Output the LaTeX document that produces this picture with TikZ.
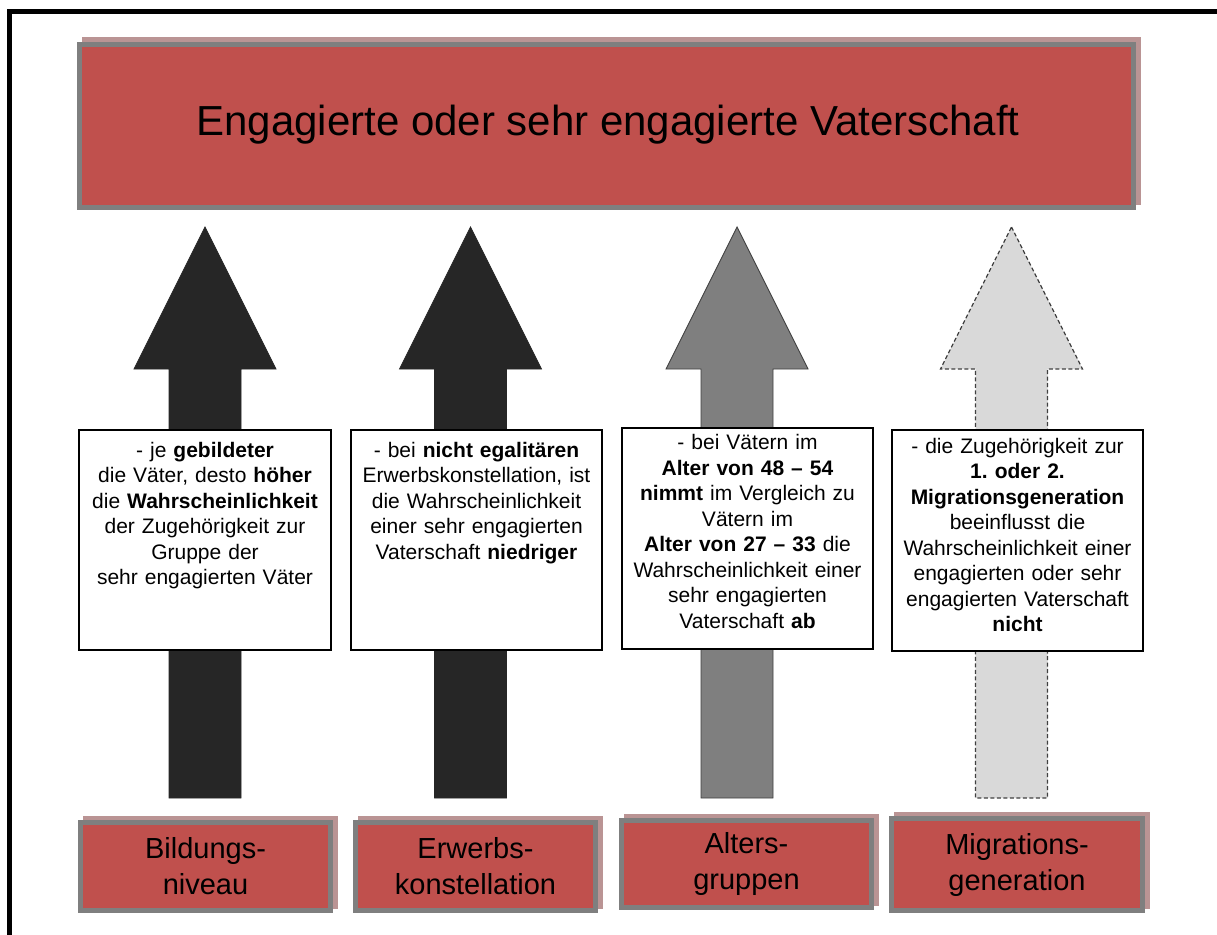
\documentclass[tikz,border=0pt]{standalone}
\usepackage{fontspec}
\setmainfont{Liberation Sans}
\usetikzlibrary{backgrounds}
\definecolor{boxred}{HTML}{C0504D}
\definecolor{boxgray}{HTML}{7F7F7F}
\definecolor{shadowcol}{HTML}{BA9494}
\definecolor{darkfill}{HTML}{262626}
\definecolor{midfill}{HTML}{7F7F7F}
\definecolor{lightfill}{HTML}{D9D9D9}
\definecolor{edgegray}{HTML}{404040}
\frenchspacing
\begin{document}
\begin{tikzpicture}[x=1pt,y=-1pt,
  redbox/.style={draw=boxgray, line width=5pt, fill=boxred, inner sep=0pt, outer sep=0pt},
  infobox/.style={draw=black, line width=1.1pt, fill=white, inner sep=0pt, outer sep=0pt},
  infotext/.style={anchor=north, inner sep=0pt, text width=250pt, align=center, font=\fontsize{21}{25.5}\selectfont},
  labeltext/.style={align=center, font=\fontsize{29}{36}\selectfont},
  titletextstyle/.style={anchor=base, inner sep=0pt, font=\fontsize{42}{50}\selectfont},
  darkarrow/.style={fill=darkfill, draw=darkfill, line width=0.8pt, line join=miter},
  midarrow/.style={fill=midfill, draw=edgegray, line width=0.9pt, line join=miter},
  lightarrow/.style={fill=lightfill, draw=edgegray, line width=1.2pt, dash pattern=on 4pt off 2.5pt},
  frameline/.style={draw=black, line width=5pt}
]
\useasboundingbox (0,0) rectangle (1217,934);

% outer frame (cut off at right and bottom)
\draw[frameline] (9.5,945) -- (9.5,11.5) -- (1230,11.5);

% title box
\node[redbox, minimum width=1054pt, minimum height=163pt] (title) at (606.5,126) {};
\node[titletextstyle] (titletext) at (608,135) {Engagierte oder sehr engagierte Vaterschaft};

% block arrows
\foreach \cx/\st in {205/darkarrow, 470.5/darkarrow, 737/midarrow, 1011.5/lightarrow}{
  \draw[\st] (\cx,227) -- (\cx+71,369) -- (\cx+36,369) -- (\cx+36,798)
     -- (\cx-36,798) -- (\cx-36,369) -- (\cx-71,369) -- cycle;
}

% info boxes
\node[infobox, minimum width=252pt, minimum height=220pt] (ia) at (205,540) {};
\node[infobox, minimum width=251pt, minimum height=220pt] (ib) at (476.5,540) {};
\node[infobox, minimum width=251pt, minimum height=221pt] (ic) at (747.5,538.5) {};
\node[infobox, minimum width=251pt, minimum height=221pt] (id) at (1017.5,540.5) {};

\node[infotext] (ta) at (205,437) {\rule{0pt}{20pt}- je \textbf{gebildeter}\\
die Väter, desto \textbf{höher}\\
die \textbf{Wahrscheinlichkeit}\\
der Zugehörigkeit zur\\
Gruppe der\\
sehr engagierten Väter};

\node[infotext] (tb) at (476.5,437) {\rule{0pt}{20pt}- bei \textbf{nicht egalitären}\\
Erwerbskonstellation, ist\\
die Wahrscheinlichkeit\\
einer sehr engagierten\\
Vaterschaft \textbf{niedriger}};

\node[infotext] (tc) at (747.5,429.5) {\rule{0pt}{20pt}- bei Vätern im\\
\textbf{Alter von 48 – 54}\\
\textbf{nimmt} im Vergleich zu\\
Vätern im\\
\textbf{Alter von 27 – 33} die\\
Wahrscheinlichkeit einer\\
sehr engagierten\\
Vaterschaft \textbf{ab}};

\node[infotext] (td) at (1017.5,433) {\rule{0pt}{20pt}- die Zugehörigkeit zur\\
\textbf{1. oder 2.}\\
\textbf{Migrationsgeneration}\\
beeinflusst die\\
Wahrscheinlichkeit einer\\
engagierten oder sehr\\
engagierten Vaterschaft\\
\textbf{nicht}};

% bottom label boxes
\node[redbox, labeltext, minimum width=250pt, minimum height=88pt] (la) at (205.5,866.5) {Bildungs-\\niveau};
\node[redbox, labeltext, minimum width=240pt, minimum height=88pt] (lb) at (475.5,866.5) {Erwerbs-\\konstellation};
\node[redbox, labeltext, minimum width=250pt, minimum height=87pt] (lc) at (746.5,864) {Alters-\\gruppen};
\node[redbox, labeltext, minimum width=251pt, minimum height=92pt] (ld) at (1017,864.5) {Migrations-\\generation};

% shadows
\begin{scope}[on background layer]
  \fill[shadowcol] ([shift={(2.5,-2.5)}]title.south west) rectangle ([shift={(7.5,-7.5)}]title.north east);
  \foreach \n in {la,lb,lc,ld}{
    \fill[shadowcol] ([shift={(2.5,-2)}]\n.south west) rectangle ([shift={(7,-6.5)}]\n.north east);
  }
\end{scope}
\end{tikzpicture}
\end{document}
